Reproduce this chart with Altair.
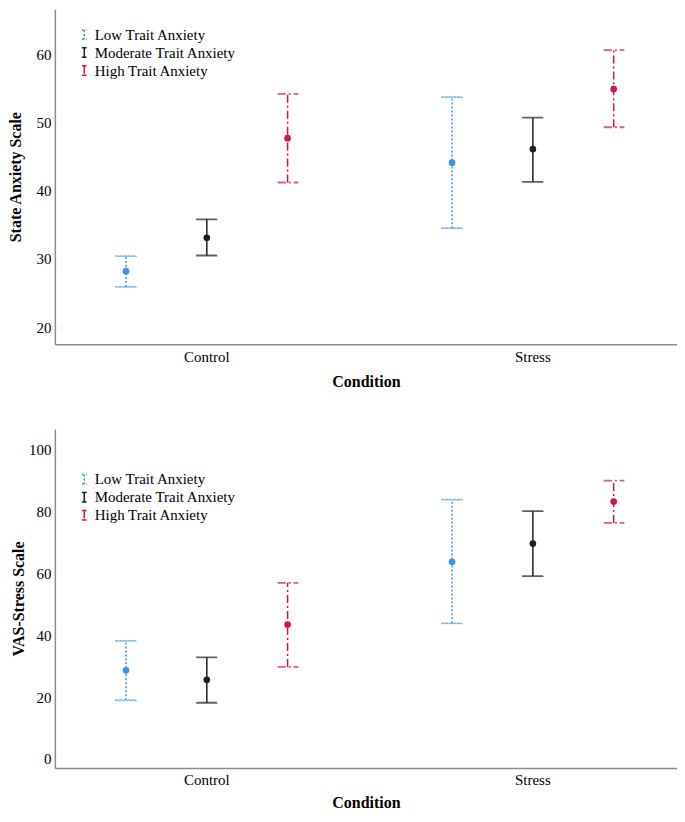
import altair as alt
import pandas as pd

conditions = ["Control", "Stress"]
groups = ["Low Trait Anxiety", "Moderate Trait Anxiety", "High Trait Anxiety"]
colors = ["#3d93e4", "#1e1e1e", "#d3134a"]
dashes = [[2, 2], [1, 0], [8, 3, 2, 3]]

# order: Control (low, moderate, high), Stress (low, moderate, high)
stai_mean = [28.2, 33.1, 47.7, 44.1, 46.1, 54.9]
stai_lower = [25.9, 30.5, 41.2, 34.5, 41.3, 49.3]
stai_upper = [30.4, 35.8, 54.2, 53.7, 50.7, 60.6]

vas_mean = [28.7, 25.6, 43.5, 63.8, 69.7, 83.3]
vas_lower = [19.0, 18.2, 29.8, 43.9, 59.2, 76.4]
vas_upper = [38.2, 32.9, 57.0, 83.9, 80.2, 90.1]

cond_col = [c for c in conditions for _ in groups]
group_col = [g for _ in conditions for g in groups]

FONT = "Liberation Serif"
SYMBOL = "M-0.5,-1H0.5M0,-1V1M-0.5,1H0.5"


def panel(mean, lower, upper, ytitle, domain, ticks, height, legend_y,
          title_x=None, title_pad=9):
    df = pd.DataFrame({
        "Condition": cond_col,
        "Group": group_col,
        "mean": mean,
        "lower": lower,
        "upper": upper,
    })
    base = alt.Chart(df)
    x = alt.X("Condition:N", sort=conditions,
              scale=alt.Scale(paddingInner=0.116, paddingOuter=0.012, align=1),
              axis=alt.Axis(title="Condition", labelAngle=0, ticks=False,
                            labelPadding=5, titlePadding=title_pad))
    xo = alt.XOffset("Group:N", sort=groups,
                     scale=alt.Scale(paddingOuter=0.284, paddingInner=0))
    yscale = alt.Scale(domain=domain, nice=False, zero=False, padding=0)
    yaxis_kw = dict(title=ytitle, values=ticks, ticks=False, grid=False,
                    labelPadding=4, titlePadding=2)
    if title_x is not None:
        yaxis_kw["titleX"] = title_x
    legend = alt.Legend(title=None, orient="none", legendX=22, legendY=legend_y,
                        symbolType=SYMBOL, symbolSize=90, symbolStrokeWidth=1.5,
                        labelFontSize=15, labelFont=FONT, rowPadding=1,
                        labelOffset=3, labelColor="black")
    color_enc = alt.Color("Group:N", sort=groups,
                          scale=alt.Scale(domain=groups, range=colors), legend=legend)
    dash_enc = alt.StrokeDash("Group:N", sort=groups,
                              scale=alt.Scale(domain=groups, range=dashes), legend=legend)
    color_nol = alt.Color("Group:N", sort=groups,
                          scale=alt.Scale(domain=groups, range=colors), legend=None)
    dash_nol = alt.StrokeDash("Group:N", sort=groups,
                              scale=alt.Scale(domain=groups, range=dashes), legend=None)

    rules = base.mark_rule(strokeWidth=1.5).encode(
        x=x, xOffset=xo,
        y=alt.Y("lower:Q", scale=yscale, axis=alt.Axis(**yaxis_kw)),
        y2="upper:Q",
        color=color_enc, strokeDash=dash_enc,
    )
    cap_lo = base.mark_tick(size=20, thickness=0.3, filled=False, strokeWidth=1.5).encode(
        x=x, xOffset=xo, y=alt.Y("lower:Q", scale=yscale),
        color=color_nol, strokeDash=dash_nol,
    )
    cap_hi = base.mark_tick(size=20, thickness=0.3, filled=False, strokeWidth=1.5).encode(
        x=x, xOffset=xo, y=alt.Y("upper:Q", scale=yscale),
        color=color_nol, strokeDash=dash_nol,
    )
    pts = base.mark_circle(size=45, opacity=1).encode(
        x=x, xOffset=xo, y=alt.Y("mean:Q", scale=yscale),
        color=color_nol,
    )
    return alt.layer(rules, cap_lo, cap_hi, pts).properties(width=624, height=height)


top = panel(stai_mean, stai_lower, stai_upper, "State Anxiety Scale",
            [17.5, 66.6], [20, 30, 40, 50, 60], 336, 18, title_x=-31, title_pad=9)
bottom = panel(vas_mean, vas_lower, vas_upper, "VAS-Stress Scale",
               [-2.9, 106.8], [0, 20, 40, 60, 80, 100], 340, 43, title_pad=7)

chart = alt.vconcat(top, bottom, spacing=40).resolve_scale(
    color="independent", strokeDash="independent", x="independent", y="independent"
).properties(padding=0).configure_view(stroke=None).configure_axis(
    labelFont=FONT, titleFont=FONT, labelFontSize=15, titleFontSize=16,
    titleFontWeight="bold", labelColor="black", titleColor="black",
    domainColor="#8c8c8c", domainWidth=1.5, grid=False,
)

chart.save("out.html", embed_options={"renderer": "svg", "actions": False})
